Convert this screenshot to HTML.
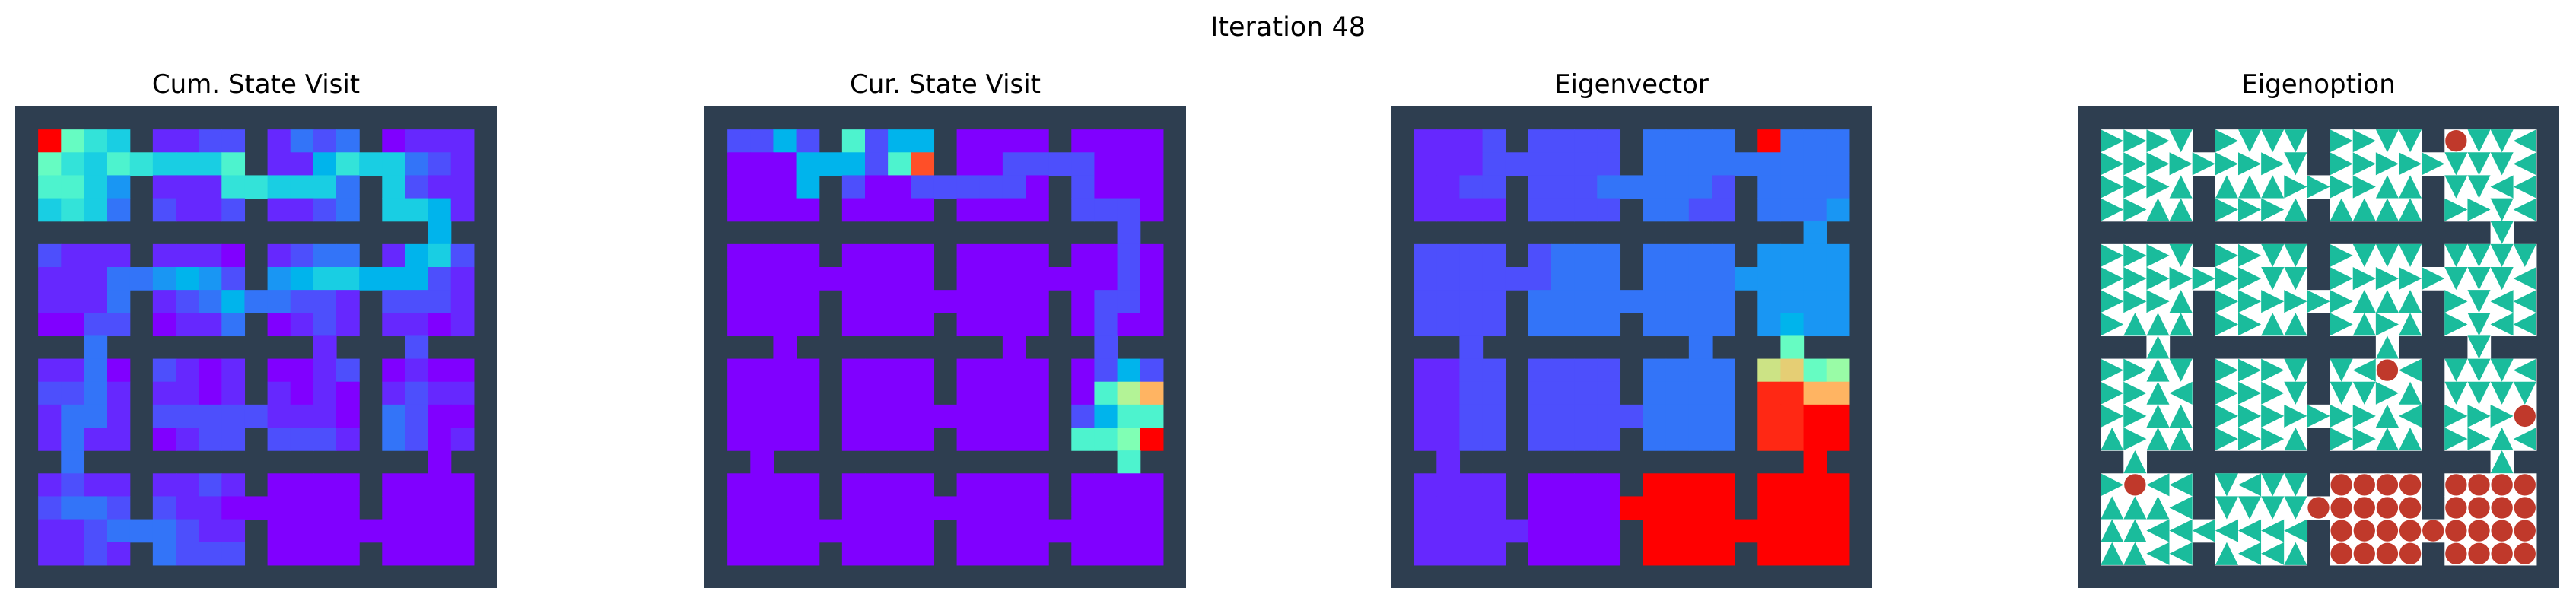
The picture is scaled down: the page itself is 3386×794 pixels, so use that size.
<!DOCTYPE html>
<html><head><meta charset="utf-8"><style>
html,body{margin:0;padding:0;background:#fff;}
svg{display:block;}
text{font-family:"DejaVu Sans","Liberation Sans",sans-serif;fill:#000;}
</style></head><body>
<svg id="fig" width="3386" height="794" viewBox="0 0 3386 794" xmlns="http://www.w3.org/2000/svg">
<text x="1693" y="47" font-size="35" text-anchor="middle">Iteration 48</text>
</svg>
<script>
const panelTitles = ["Cum. State Visit", "Cur. State Visit", "Eigenvector", "Eigenoption"];
// value grids: '#' wall, other chars = base36 value / 20 (capped 1)
const cumGrid = [
"#####################",
"#k976#1122#1323#0111#",
"#976876668#115766321#",
"#8864#111776663#6211#",
"#6763#2112#1123#6651#",
"##################5##",
"#2111#1110#1233#1562#",
"#111334542#456655521#",
"#1113#123533221#2221#",
"#0022#0113#0121#1101#",
"###3#########1###2###",
"#1130#2101#0012#0100#",
"#2231#1101#1010#1211#",
"#1331#222221110#3200#",
"#1311#0122#2221#3201#",
"##3###############0##",
"#1211#1121#0000#0000#",
"#2332#211000000#0000#",
"#112333211#000000000#",
"#1121#3222#0000#0000#",
"#####################"];
const curGrid = [
"#####################",
"#2252#8255#0000#0000#",
"#00055528i#002222000#",
"#0005#200222220#2000#",
"#0000#0000#0000#2220#",
"##################2##",
"#0000#0000#0000#0020#",
"#000000000#000000020#",
"#0000#000000000#0220#",
"#0000#0000#0000#0200#",
"###0#########0###2###",
"#0000#0000#0000#0252#",
"#0000#0000#0000#08cf#",
"#0000#000000000#2588#",
"#0000#0000#0000#88ak#",
"##0###############8##",
"#0000#0000#0000#0000#",
"#0000#000000000#0000#",
"#000000000#000000000#",
"#0000#0000#0000#0000#",
"#####################"];
const eigGrid = [
"#####################",
"#1112#2222#3333#k333#",
"#111222222#333333333#",
"#1122#222333332#3333#",
"#1111#2222#3322#3334#",
"##################4##",
"#2222#2333#3333#4444#",
"#222222333#333344444#",
"#2222#333333333#4444#",
"#2222#3333#3333#4544#",
"###2#########3###9###",
"#1122#2222#3333#de9b#",
"#1122#2222#3333#jjff#",
"#1122#222223333#jjkk#",
"#1122#2222#3333#jjkk#",
"##1###############k##",
"#1111#0000#kkkk#kkkk#",
"#1111#0000kkkkk#kkkk#",
"#111110000#kkkkkkkkk#",
"#1111#0000#kkkk#kkkk#",
"#####################"];
// option grid: R/L/U/D arrows, O = terminate
const optGrid = [
"#####################",
"#RRRD#RDDD#RRDD#ODDL#",
"#RRRRRRRRD#RRRRRDDDL#",
"#RRRU#UUURRRRUU#DDLL#",
"#RRUU#RRRU#UUUU#RRDL#",
"##################D##",
"#RRRD#RRDD#RDDD#DDDD#",
"#RRRRRRRDD#RRRRRDDDL#",
"#RRRU#RRRRRRUUU#RDLL#",
"#RUUU#RRUU#RURU#RDLL#",
"###U#########U###D###",
"#RRUD#RRRD#DLOL#DDDL#",
"#RRUL#RRRD#DDRU#DDDD#",
"#RRUU#RRRRRRRUL#RRRO#",
"#URUU#RRRU#RRUU#RRUL#",
"##U###############U##",
"#ROLL#DLDD#OOOO#OOOO#",
"#UUUL#DDDDOOOOO#OOOO#",
"#UULLLLLLL#OOOOOOOOO#",
"#UULL#ULLU#OOOO#OOOO#",
"#####################"];

const NS = "http://www.w3.org/2000/svg";
const svg = document.getElementById('fig');
const panelX = [20, 926, 1828, 2731];
const panelY = 140, panelSize = 633, N = 21;
const cs = panelSize / N;
const WALL = "#2e3e50";
function xPos(p, c) { return panelX[p] + c * cs; }
function yPos(r) { return panelY + r * cs; }
function rainbow(v) {
  v = Math.max(0, Math.min(1, v));
  const r = Math.min(1, Math.abs(2 * v - 0.5)), g = Math.sin(Math.PI * v), b = Math.cos(Math.PI * v / 2);
  return "rgb(" + Math.round(r * 255) + "," + Math.round(g * 255) + "," + Math.round(b * 255) + ")";
}
function val(ch) { return Math.min(1, parseInt(ch, 36) / 20); }
function mk(tag, attrs) { const e = document.createElementNS(NS, tag); for (const k in attrs) e.setAttribute(k, attrs[k]); return e; }

const grids = [cumGrid, curGrid, eigGrid];
for (let p = 0; p < 4; p++) {
  const g = mk('g', {});
  
  
  svg.appendChild(g);
  const t = mk('text', { x: panelX[p] + panelSize / 2, y: 122, 'font-size': 34, 'text-anchor': 'middle' });
  
  
  t.textContent = panelTitles[p];
  g.appendChild(t);
  const bg = mk('rect', { x: panelX[p], y: panelY, width: panelSize, height: panelSize, fill: WALL });
  
  
  g.appendChild(bg);
  for (let r = 0; r < N; r++) for (let c = 0; c < N; c++) {
    if (p < 3) {
      const ch = grids[p][r][c];
      if (ch === '#') continue;
      const rc = mk('rect', { x: xPos(p, c), y: yPos(r), width: cs + 0.6, height: cs + 0.6, fill: rainbow(val(ch)) });
      
      
      g.appendChild(rc);
    } else {
      const ch = optGrid[r][c];
      if (ch === '#') continue;
      const x = xPos(p, c), y = yPos(r);
      const rc = mk('rect', { x: x, y: y, width: cs + 0.6, height: cs + 0.6, fill: '#fff' });
      
      
      g.appendChild(rc);
      let m;
      if (ch === 'O') {
        m = mk('circle', { cx: x + cs / 2, cy: y + cs / 2, r: cs * 0.47, fill: '#c0392b' });
        
      } else {
        let pts;
        if (ch === 'R') pts = [[x, y], [x + cs, y + cs / 2], [x, y + cs]];
        else if (ch === 'L') pts = [[x + cs, y], [x, y + cs / 2], [x + cs, y + cs]];
        else if (ch === 'D') pts = [[x, y], [x + cs, y], [x + cs / 2, y + cs]];
        else pts = [[x, y + cs], [x + cs, y + cs], [x + cs / 2, y]];
        m = mk('polygon', { points: pts.map(q => q.join(',')).join(' '), fill: '#1abc9c' });
        
      }
      
      g.appendChild(m);
    }
  }
}
</script>
</body></html>
